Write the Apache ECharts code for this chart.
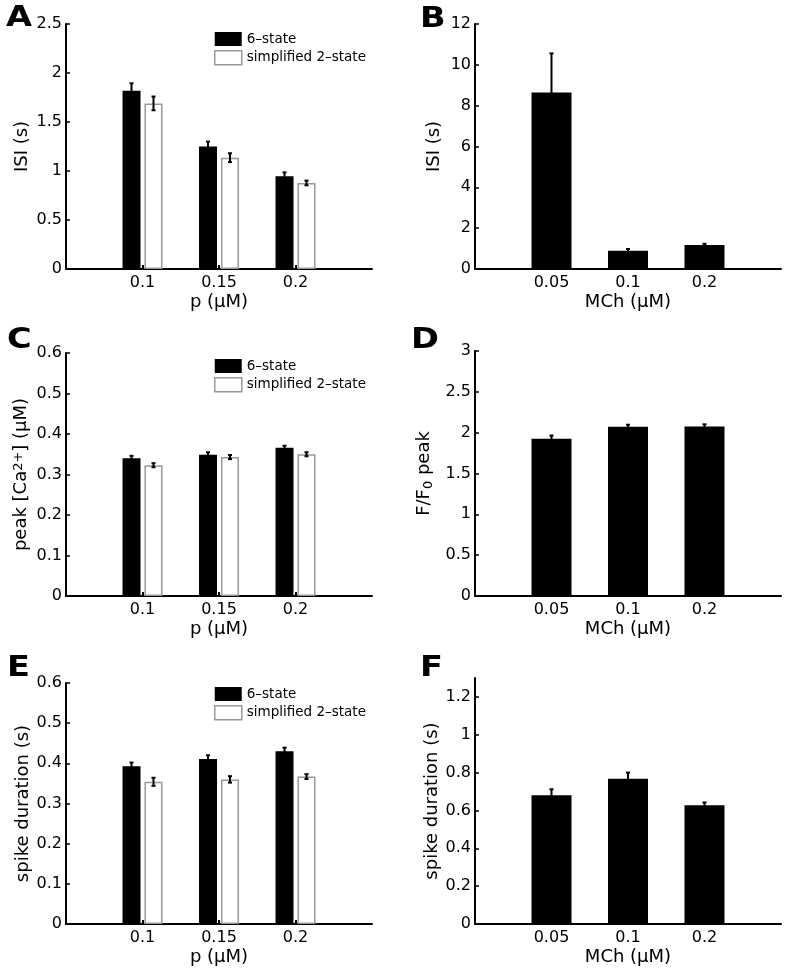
<!DOCTYPE html>
<html><head><meta charset="utf-8">
<script src="https://cdn.jsdelivr.net/npm/echarts@6/dist/echarts.min.js"></script>
<style>html,body{margin:0;padding:0;background:#fff}#c{width:786px;height:971px}</style>
</head><body><div id="c"></div>
<script>
// ---------- data ----------
const pCategories = ['0.1', '0.15', '0.2'];
const mchCategories = ['0.05', '0.1', '0.2'];
const modelNames = ['6–state', 'simplified 2–state'];

// Panel A: ISI vs p
const isiSixState = [1.82, 1.25, 0.946];
const isiSixStateErr = [0.075, 0.05, 0.04];
const isiTwoState = [1.69, 1.136, 0.878];
const isiTwoStateErr = [0.07, 0.045, 0.024];

// Panel B: ISI vs MCh
const isiMch = [8.65, 0.90, 1.175];
const isiMchErr = [1.91, 0.08, 0.06];

// Panel C: peak Ca vs p
const caSixState = [0.340, 0.349, 0.366];
const caSixStateErr = [0.006, 0.006, 0.005];
const caTwoState = [0.323, 0.343, 0.350];
const caTwoStateErr = [0.005, 0.005, 0.005];

// Panel D: F/F0 peak vs MCh
const ffPeak = [1.925, 2.072, 2.077];
const ffPeakErr = [0.04, 0.025, 0.025];

// Panel E: spike duration vs p
const durSixState = [0.393, 0.411, 0.430];
const durSixStateErr = [0.009, 0.009, 0.009];
const durTwoState = [0.354, 0.360, 0.367];
const durTwoStateErr = [0.01, 0.008, 0.006];

// Panel F: spike duration vs MCh
const durMch = [0.680, 0.768, 0.627];
const durMchErr = [0.032, 0.032, 0.015];

// y tick labels
const yTicksA = [0, 0.5, 1, 1.5, 2, 2.5];
const yTicksB = [0, 2, 4, 6, 8, 10, 12];
const yTicksC = [0, 0.1, 0.2, 0.3, 0.4, 0.5, 0.6];
const yTicksD = [0, 0.5, 1, 1.5, 2, 2.5, 3];
const yTicksE = [0, 0.1, 0.2, 0.3, 0.4, 0.5, 0.6];
const yTicksF = [0, 0.2, 0.4, 0.6, 0.8, 1, 1.2];
const yMaxF = 1.3;

// ---------- styling ----------
const FONT = 'DejaVu Sans';
const INK = '#000';
const chart = echarts.init(document.getElementById('c'), null, {renderer: 'canvas'});

const grids = [
  {left: 66,  top: 24,  width: 306, height: 245},
  {left: 475, top: 24,  width: 306, height: 245},
  {left: 66,  top: 353, width: 306, height: 243},
  {left: 475, top: 351, width: 306, height: 245},
  {left: 66,  top: 683, width: 306, height: 241},
  {left: 475, top: 678, width: 306, height: 246}
];

function padCats(c) { return [''].concat(c, ['']); }
function padVals(v) { return ['-'].concat(v, ['-']); }

const xAxes = [], yAxes = [], series = [];

function addAxes(gi, cats, xName, yName, yTicks, yMax, yNameGap, rich) {
  xAxes.push({
    gridIndex: gi, type: 'category', data: padCats(cats), boundaryGap: false,
    name: xName, nameLocation: 'middle', nameGap: 24,
    nameTextStyle: {fontFamily: FONT, fontSize: 18, color: INK},
    axisLine: {lineStyle: {color: '#000', width: 2}},
    axisTick: {inside: true, length: 4, lineStyle: {color: '#000', width: 2},
               interval: function (i, v) { return v !== ''; }},
    axisLabel: {fontFamily: FONT, fontSize: 16, color: INK, margin: 6, interval: 0},
    splitLine: {show: false}
  });
  yAxes.push({
    gridIndex: gi, type: 'value', min: 0, max: yMax,
    name: yName, nameLocation: 'middle', nameRotate: 90, nameGap: yNameGap,
    nameTextStyle: Object.assign({fontFamily: FONT, fontSize: 18, color: INK}, rich ? {rich: rich} : {}),
    axisLine: {show: true, lineStyle: {color: '#000', width: 2}},
    axisTick: {show: true, inside: true, length: 4, lineStyle: {color: '#000', width: 1.5}, customValues: yTicks},
    axisLabel: {fontFamily: FONT, fontSize: 16, color: INK, margin: 4, customValues: yTicks},
    splitLine: {show: false}
  });
}

function errRender(offset) {
  return function (params, api) {
    const x = api.value(0), v = api.value(1), e = api.value(2);
    const top = api.coord([x, v + e]);
    const bot = api.coord([x, v - e]);
    const cx = top[0] + offset;
    const st = {stroke: '#000', lineWidth: 2};
    return {type: 'group', children: [
      {type: 'line', shape: {x1: cx, y1: top[1], x2: cx, y2: bot[1]}, style: st},
      {type: 'line', shape: {x1: cx - 2, y1: top[1], x2: cx + 2, y2: top[1]}, style: st},
      {type: 'line', shape: {x1: cx - 2, y1: bot[1], x2: cx + 2, y2: bot[1]}, style: st}
    ]};
  };
}

function errData(vals, errs) {
  return vals.map(function (v, i) { return [i + 1, v, errs[i]]; });
}

function addGrouped(gi, six, sixErr, two, twoErr) {
  series.push({
    type: 'bar', name: modelNames[0], xAxisIndex: gi, yAxisIndex: gi,
    data: padVals(six), barWidth: 18, barGap: '22%',
    itemStyle: {color: '#000', borderColor: '#000', borderWidth: 0}
  });
  series.push({
    type: 'bar', name: modelNames[1], xAxisIndex: gi, yAxisIndex: gi,
    data: padVals(two), barWidth: 18, barGap: '22%',
    itemStyle: {color: '#fff', borderColor: '#999', borderWidth: 1.5}
  });
  series.push({type: 'custom', name: 'err6_' + gi, xAxisIndex: gi, yAxisIndex: gi, z: 5,
    renderItem: errRender(-11), data: errData(six, sixErr)});
  series.push({type: 'custom', name: 'err2_' + gi, xAxisIndex: gi, yAxisIndex: gi, z: 5,
    renderItem: errRender(11), data: errData(two, twoErr)});
}

function addSingle(gi, vals, errs) {
  series.push({
    type: 'bar', name: 'mch_' + gi, xAxisIndex: gi, yAxisIndex: gi,
    data: padVals(vals), barWidth: 40,
    itemStyle: {color: '#000'}
  });
  series.push({type: 'custom', name: 'errm_' + gi, xAxisIndex: gi, yAxisIndex: gi, z: 5,
    renderItem: errRender(0), data: errData(vals, errs)});
}

addAxes(0, pCategories, 'p (μM)', 'ISI (s)', yTicksA, yTicksA[yTicksA.length - 1], 35);
addAxes(1, mchCategories, 'MCh (μM)', 'ISI (s)', yTicksB, yTicksB[yTicksB.length - 1], 32);
addAxes(2, pCategories, 'p (μM)', 'peak [Ca{sup|2+}] (μM)', yTicksC, yTicksC[yTicksC.length - 1], 35,
  {sup: {fontFamily: FONT, fontSize: 13, color: INK, verticalAlign: 'top', padding: [0, 0, 6, 0]}});
addAxes(3, mchCategories, 'MCh (μM)', 'F/F{sub|0} peak', yTicksD, yTicksD[yTicksD.length - 1], 40,
  {sub: {fontFamily: FONT, fontSize: 13, color: INK, verticalAlign: 'bottom', padding: [8, 0, 0, 0]}});
addAxes(4, pCategories, 'p (μM)', 'spike duration (s)', yTicksE, yTicksE[yTicksE.length - 1], 31);
addAxes(5, mchCategories, 'MCh (μM)', 'spike duration (s)', yTicksF, yMaxF, 31);

addGrouped(0, isiSixState, isiSixStateErr, isiTwoState, isiTwoStateErr);
addSingle(1, isiMch, isiMchErr);
addGrouped(2, caSixState, caSixStateErr, caTwoState, caTwoStateErr);
addSingle(3, ffPeak, ffPeakErr);
addGrouped(4, durSixState, durSixStateErr, durTwoState, durTwoStateErr);
addSingle(5, durMch, durMchErr);

function legendAt(top) {
  return {
    orient: 'vertical', left: 214, top: top, padding: 0, itemWidth: 27, itemHeight: 14, itemGap: 4,
    selectedMode: false, icon: 'rect',
    textStyle: {fontFamily: FONT, fontSize: 13.5, color: INK},
    data: [
      {name: modelNames[0], itemStyle: {color: '#000', borderWidth: 0}},
      {name: modelNames[1], itemStyle: {color: '#fff', borderColor: '#999', borderWidth: 1.5}}
    ]
  };
}

function letter(t, x, y) {
  return {type: 'text', left: x, top: y, scaleX: 1.2,
    style: {text: t, font: 'bold 28px "DejaVu Sans"', fill: '#000'}};
}

chart.setOption({
  animation: false,
  backgroundColor: '#fff',
  grid: grids,
  xAxis: xAxes,
  yAxis: yAxes,
  legend: [legendAt(32), legendAt(359), legendAt(687)],
  series: series,
  graphic: [
    letter('A', 6, 5), letter('B', 420, 6),
    letter('C', 7, 327), letter('D', 411, 327),
    letter('E', 7, 655), letter('F', 420, 655)
  ]
});
</script>
</body></html>
